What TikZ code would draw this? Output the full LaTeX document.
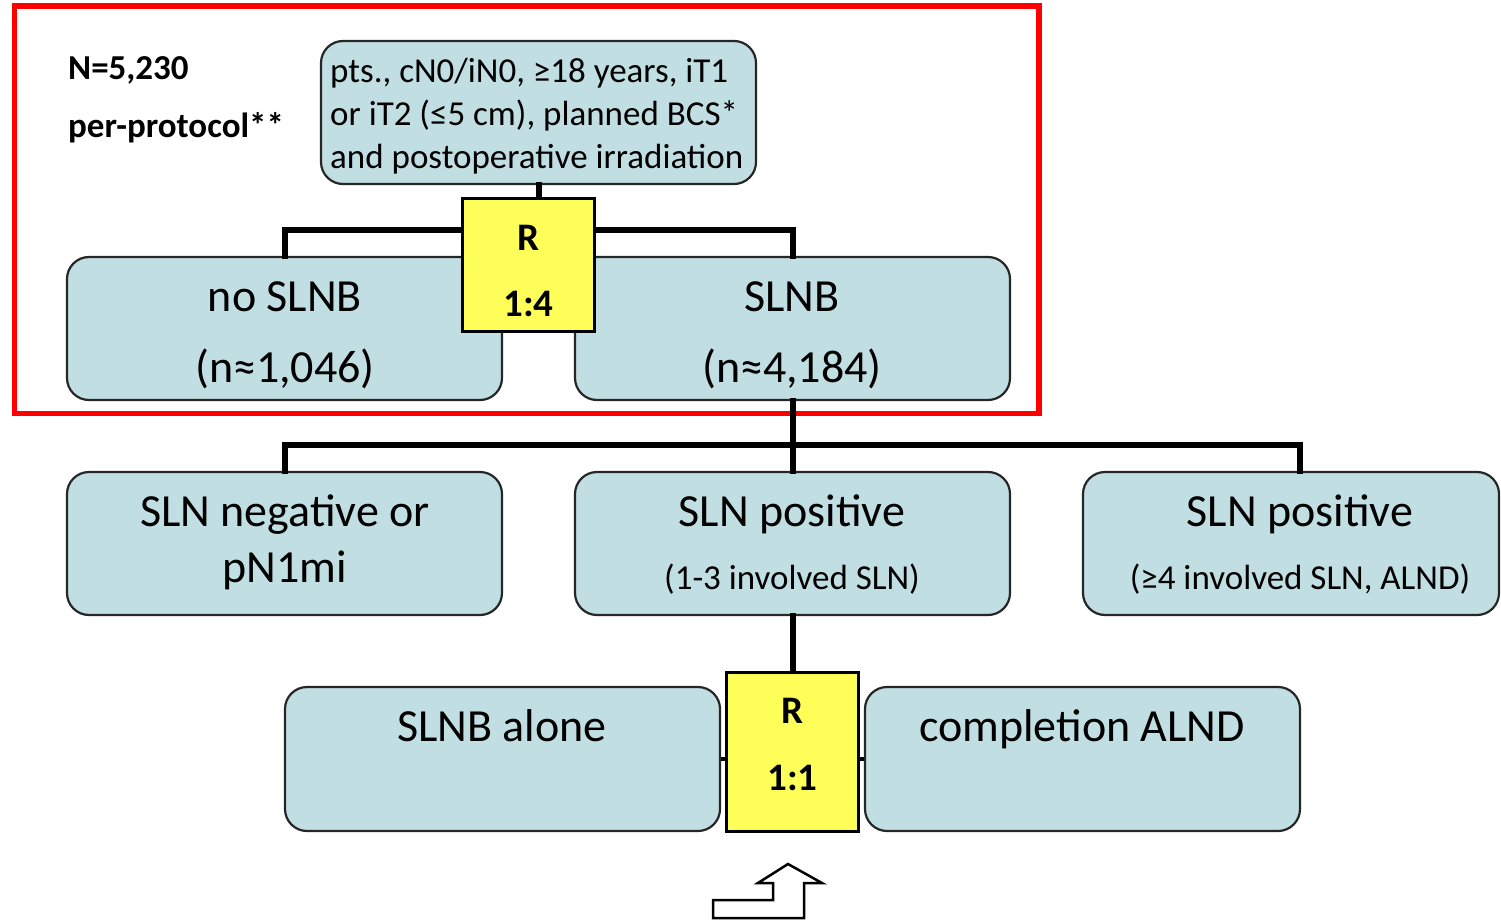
\documentclass[tikz,border=0pt]{standalone}
\usepackage{fontspec}
\setmainfont{Carlito}
\definecolor{boxfill}{RGB}{193,222,226}
\definecolor{ryellow}{RGB}{255,255,90}
\definecolor{frame}{RGB}{255,0,0}
\begin{document}
\begin{tikzpicture}[x=1pt,y=-1pt,
  box/.style={draw=black!85,line width=2.2pt,fill=boxfill,rounded corners=22pt,inner sep=0pt,minimum height=143pt},
  rbox/.style={draw=black,line width=3pt,fill=ryellow,inner sep=0pt},
  conn/.style={line width=6pt,line cap=rect},
  big/.style={anchor=base,inner sep=0pt,font=\fontsize{46}{55}\selectfont},
  mid/.style={anchor=base,inner sep=0pt,font=\fontsize{35}{43}\selectfont},
  bld/.style={anchor=base,inner sep=0pt,font=\fontsize{39}{46}\selectfont\bfseries},
]
\useasboundingbox (0,0) rectangle (1501,920);
% red frame
\draw[frame,line width=5.5pt] (14.5,6) rectangle (1039,413.5);
% boxes
\node[box,minimum width=435pt,minimum height=143pt] (top) at (538.5,112.5) {};
\node[box,minimum width=435pt] (nos) at (284.5,328.5) {};
\node[box,minimum width=435pt] (slnb) at (792.5,328.5) {};
\node[box,minimum width=435pt] (neg) at (284.5,543.5) {};
\node[box,minimum width=435pt] (posm) at (792.5,543.5) {};
\node[box,minimum width=416pt] (posr) at (1291,543.5) {};
\node[box,minimum width=435pt,minimum height=144pt] (alone) at (502.5,759) {};
\node[box,minimum width=435pt,minimum height=144pt] (compl) at (1082.5,759) {};
% texts
\node[anchor=base west,inner sep=0pt,font=\fontsize{35}{43}\selectfont\bfseries] (ntxt) at (68,80) {N=5,230};
\node[anchor=base west,inner sep=0pt,font=\fontsize{35}{43}\selectfont\bfseries] (pptxt) at (68,138) {per-protocol**};
\node[anchor=base west,inner sep=0pt,font=\fontsize{35}{43}\selectfont] (t1) at (330,83) {pts., cN0/iN0, ≥18 years, iT1};
\node[anchor=base west,inner sep=0pt,font=\fontsize{35}{43}\selectfont] (t2) at (330,126) {or iT2 (≤5 cm), planned BCS*};
\node[anchor=base west,inner sep=0pt,font=\fontsize{35}{43}\selectfont] (t3) at (330,169) {and postoperative irradiation};
\node[big] (nosa) at (285,311) {no SLNB};
\node[big] (nosb) at (285,382) {(n≈1,046)};
\node[big] (slnba) at (792,311) {SLNB};
\node[big] (slnbb) at (792,382) {(n≈4,184)};
\node[big] (nega) at (285,526) {SLN negative or};
\node[big] (negb) at (285,582) {pN1mi};
\node[big] (posma) at (792,526) {SLN positive};
\node[mid] (posmb) at (792,589) {(1-3 involved SLN)};
\node[big] (posra) at (1300,526) {SLN positive};
\node[mid] (posrb) at (1300,589) {(≥4 involved SLN, ALND)};
\node[big] (alonea) at (502,741) {SLNB alone};
\node[big] (compla) at (1082,741) {completion ALND};
% junctions
\coordinate (j1) at (538.5,230);
\coordinate (j2) at (792.5,445);
% connectors
\draw[conn] (top.south) -- (j1);
\draw[conn] (nos.north) |- (j1) -| (slnb.north);
\draw[conn] (slnb.south) -- (j2);
\draw[conn] (neg.north) |- (j2) -| (posra |- posr.north);
\draw[conn] (j2) -- (posm.north);
% R boxes
\node[rbox,minimum width=132pt,minimum height=132pt] (r1) at (528.5,265) {};
\node[rbox,minimum width=132pt,minimum height=159pt] (r2) at (792.5,751.5) {};
\draw[conn] (posm.south) -- (r2.north);
\draw[line width=4pt] (alone.east) -- (alone.east -| r2.west);
\draw[line width=4pt] (compl.west) -- (compl.west -| r2.east);
\node[bld] (r1a) at (528.5,250) {R};
\node[bld] (r1b) at (528.5,316) {1:4};
\node[bld] (r2a) at (792.5,723) {R};
\node[bld] (r2b) at (792.5,790) {1:1};
% bottom arrow
\draw[line width=2.5pt,line join=miter,fill=white] (713,900) -- (773,900) -- (773,883) -- (758,883) -- (788,864) -- (822,883) -- (804,883) -- (804,918) -- (713,918) -- cycle;
\end{tikzpicture}
\end{document}
